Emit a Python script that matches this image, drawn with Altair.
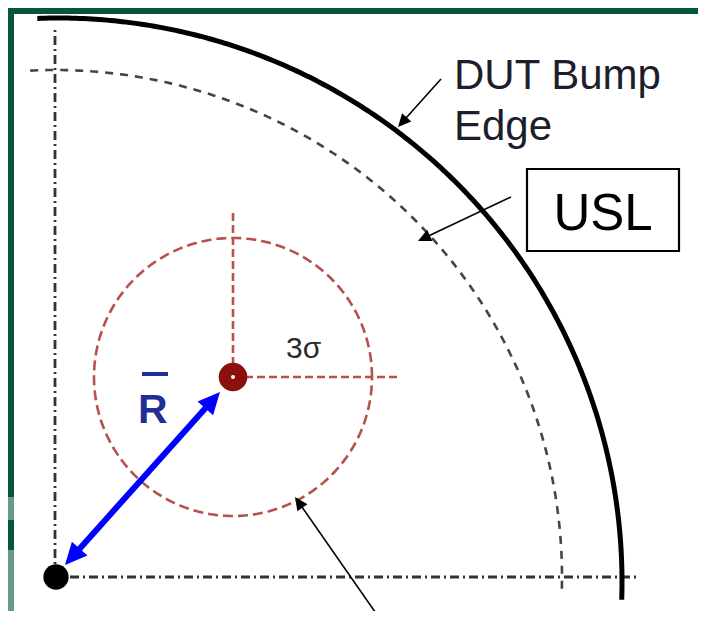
import math
import altair as alt
import numpy as np
import pandas as pd

# ---------------- diagram data (units: px from the origin dot, y up) ----------------
origin_dot = [1, 0]
axis_vertical = [[0, 0], [0, 550]]
axis_horizontal = [[15, 0], [585, 0]]

bump_center = [3, -5]
bump_radius = 564
bump_angles = [92.1, -1.8]

usl_center = [0, 0]
usl_radius = 507
usl_angles = [92.8, -2.0]

mean_center = [178, 200]
sigma3_radius = 139
sigma_vertical_top = 365
sigma_horizontal_right = 345

rbar_tail = [10, 12]
rbar_tip = [165, 185]

callout_tails = [[386, 498], [456, 380], [325, -42]]
callout_tips = [[343, 450], [363, 336], [240, 80]]

text_labels = ["DUT Bump", "Edge", "3σ", "R"]
text_u = [399, 399, 231, 83]
text_v = [488, 437, 219, 154]

usl_label = "USL"
usl_box_u = [472, 624]
usl_box_v = [326, 408]

rbar_overbar_u = [87, 113]
rbar_overbar_v = 203

# frame strips (green border)
frame_colors = ["#03573c", "#03573c", "#6a9a8a", "#03573c", "#6a9a8a"]
frame_u = [[-47, 643], [-47, -41], [-47, -41], [-47, -41], [-47, -41]]
frame_v = [[563, 569], [80, 569], [57, 80], [27, 57], [-34, 27]]

# ---------------- helpers ----------------
XS = alt.Scale(domain=[-47, 643], nice=False, zero=False)
YS = alt.Scale(domain=[-34, 569], nice=False, zero=False)


def enc(ch):
    return ch.encode(
        x=alt.X("u:Q", scale=XS, axis=None),
        y=alt.Y("v:Q", scale=YS, axis=None),
    )


def arc_df(center, radius, a0, a1, n=240):
    t = np.radians(np.linspace(a0, a1, n))
    return pd.DataFrame({"i": np.arange(n),
                         "u": center[0] + radius * np.cos(t),
                         "v": center[1] + radius * np.sin(t)})


def seg_df(p, q):
    return pd.DataFrame({"i": [0, 1], "u": [p[0], q[0]], "v": [p[1], q[1]]})


def line_layer(df, color, width, dash=None):
    kw = dict(color=color, strokeWidth=width, clip=False)
    if dash is not None:
        kw["strokeDash"] = dash
    return alt.Chart(df).mark_line(**kw).encode(
        x=alt.X("u:Q", scale=XS, axis=None),
        y=alt.Y("v:Q", scale=YS, axis=None),
        order="i:Q",
    )


HEAD = "M0,-1L0.95,1L-0.95,1Z"


def head_layer(tail, tip, s, color):
    du, dv = tip[0] - tail[0], tip[1] - tail[1]
    L = math.hypot(du, dv)
    eu, ev = du / L, dv / L
    cu, cv = tip[0] - eu * s / 2, tip[1] - ev * s / 2
    ang = (math.degrees(math.atan2(du, dv)) + 360) % 360
    df = pd.DataFrame({"u": [cu], "v": [cv]})
    return enc(alt.Chart(df).mark_point(shape=HEAD, filled=True, size=s * s,
                                        color=color, opacity=1, angle=ang,
                                        strokeWidth=0))


def shorten(p, q, d):
    du, dv = q[0] - p[0], q[1] - p[1]
    L = math.hypot(du, dv)
    return [q[0] - du / L * d, q[1] - dv / L * d]


layers = []

# green frame
for c, uu, vv in zip(frame_colors, frame_u, frame_v):
    layers.append(alt.Chart(pd.DataFrame({"u": [uu[0]], "u2": [uu[1]],
                                          "v": [vv[0]], "v2": [vv[1]]}))
                  .mark_rect(color=c, opacity=1)
                  .encode(x=alt.X("u:Q", scale=XS, axis=None), x2="u2:Q",
                          y=alt.Y("v:Q", scale=YS, axis=None), y2="v2:Q"))

# dash-dot reference axes
dashdot = [9, 4, 2, 4]
layers.append(line_layer(seg_df(*axis_vertical), "#333333", 2.8, dashdot))
layers.append(line_layer(seg_df(*axis_horizontal), "#333333", 2.8, dashdot))

# USL arc (dashed) and DUT bump edge (thick)
layers.append(line_layer(arc_df(usl_center, usl_radius, *usl_angles), "#444444", 2.6, [8, 7]))
layers.append(line_layer(arc_df(bump_center, bump_radius, *bump_angles), "#000000", 5))

# 3-sigma circle and cross lines
red = "#b5524e"
layers.append(line_layer(arc_df(mean_center, sigma3_radius, 0, 360, 360), red, 2.6, [10, 5]))
layers.append(line_layer(seg_df(mean_center, [mean_center[0], sigma_vertical_top]), red, 2.6, [8, 4]))
layers.append(line_layer(seg_df(mean_center, [sigma_horizontal_right, mean_center[1]]), red, 2.6, [8, 4]))

# blue double arrow R-bar
blue = "#0000ff"
bs = 22
p0 = shorten(rbar_tip, rbar_tail, bs * 0.8)
p1 = shorten(rbar_tail, rbar_tip, bs * 0.8)
layers.append(line_layer(seg_df(p0, p1), blue, 6))
layers.append(head_layer(rbar_tail, rbar_tip, bs, blue))
layers.append(head_layer(rbar_tip, rbar_tail, bs, blue))

# black callout arrows
for t, h in zip(callout_tails, callout_tips):
    layers.append(line_layer(seg_df(t, shorten(t, h, 8)), "#000000", 1.6))
    layers.append(head_layer(t, h, 13, "#000000"))

# dots
layers.append(enc(alt.Chart(pd.DataFrame({"u": [origin_dot[0]], "v": [origin_dot[1]]}))
                  .mark_circle(size=640, color="#000000", opacity=1)))
layers.append(enc(alt.Chart(pd.DataFrame({"u": [mean_center[0]], "v": [mean_center[1]]}))
                  .mark_circle(size=820, color="#8b0f0b", opacity=1)))
layers.append(enc(alt.Chart(pd.DataFrame({"u": [mean_center[0]], "v": [mean_center[1]]}))
                  .mark_circle(size=16, color="#ffffff", opacity=1)))

# USL box
layers.append(alt.Chart(pd.DataFrame({"u": [usl_box_u[0]], "u2": [usl_box_u[1]],
                                      "v": [usl_box_v[0]], "v2": [usl_box_v[1]]}))
              .mark_rect(fill="#ffffff", stroke="#000000", strokeWidth=2.2)
              .encode(x=alt.X("u:Q", scale=XS, axis=None), x2="u2:Q",
                      y=alt.Y("v:Q", scale=YS, axis=None), y2="v2:Q"))
layers.append(enc(alt.Chart(pd.DataFrame({"u": [(usl_box_u[0] + usl_box_u[1]) / 2],
                                          "v": [usl_box_v[0] + 21], "t": [usl_label]}))
                  .mark_text(align="center", baseline="alphabetic", font="Liberation Sans",
                             fontSize=51, color="#000000")).encode(text="t:N"))

# texts
tdf = pd.DataFrame({"u": text_u, "v": text_v, "t": text_labels})
styles = [
    dict(fontSize=42, color="#1e1e2a", fontWeight="normal"),
    dict(fontSize=42, color="#1e1e2a", fontWeight="normal"),
    dict(fontSize=30, color="#2a2a2a", fontWeight="normal"),
    dict(fontSize=41, color="#1f2f96", fontWeight="bold"),
]
for k, st in enumerate(styles):
    layers.append(enc(alt.Chart(tdf.iloc[[k]])
                      .mark_text(align="left", baseline="alphabetic", font="Liberation Sans", **st))
                  .encode(text="t:N"))

# R-bar overbar
layers.append(line_layer(seg_df([rbar_overbar_u[0], rbar_overbar_v], [rbar_overbar_u[1], rbar_overbar_v]),
                         "#1f2f96", 4))

chart = (alt.layer(*layers)
         .properties(width=690, height=603, padding=0,
                     autosize=alt.AutoSizeParams(type="none"),
                     background="#ffffff")
         .configure_view(strokeWidth=0))

chart.save("out.html", embed_options={"renderer": "svg", "actions": False})
